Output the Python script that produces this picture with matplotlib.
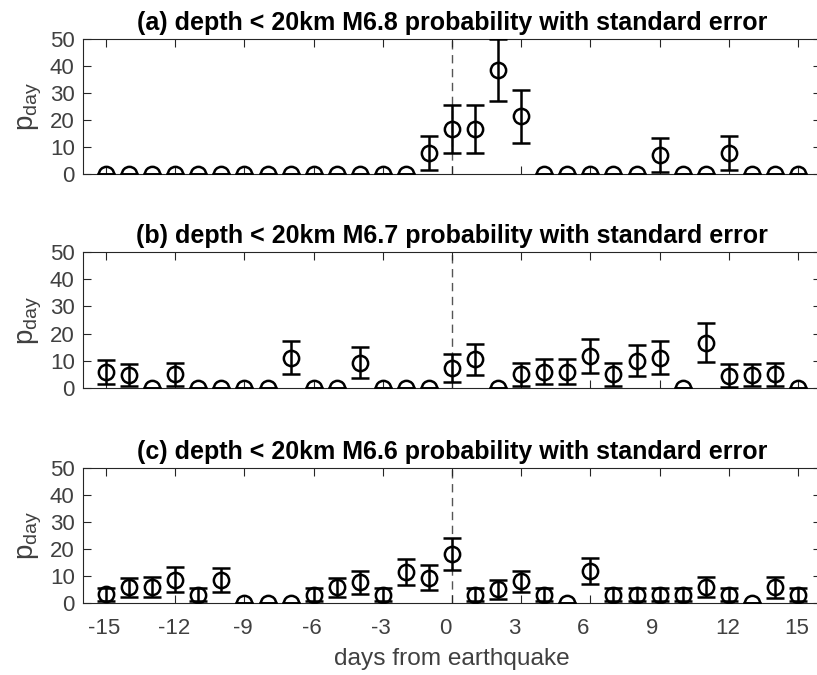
import matplotlib
matplotlib.use('Agg')
import matplotlib.pyplot as plt
import matplotlib.transforms as mtransforms
import numpy as np

plt.rcParams['font.family'] = ['Liberation Sans', 'DejaVu Sans']

days = list(range(-15, 16))

# panel (a): depth < 20km, M6.8
p_a = [0, 0, 0, 0, 0, 0, 0, 0, 0, 0, 0, 0, 0, 0, 7.7,
       16.7, 16.7, 38.5, 21.3, 0, 0, 0, 0, 0, 7.1, 0, 0, 7.7, 0, 0, 0]
se_a = [0, 0, 0, 0, 0, 0, 0, 0, 0, 0, 0, 0, 0, 0, 6.3,
        8.8, 8.8, 11.4, 9.7, 0, 0, 0, 0, 0, 6.4, 0, 0, 6.3, 0, 0, 0]

# panel (b): depth < 20km, M6.7
p_b = [6.0, 4.9, 0, 5.0, 0, 0, 0, 0, 11.2, 0, 0, 9.3, 0, 0, 0,
       7.4, 10.5, 0, 5.0, 6.0, 6.0, 11.8, 5.0, 10.1, 11.2, 0, 16.7, 4.5, 4.8, 5.0, 0]
se_b = [4.4, 4.1, 0, 4.1, 0, 0, 0, 0, 6.0, 0, 0, 5.8, 0, 0, 0,
        5.2, 5.8, 0, 4.3, 4.5, 4.5, 6.3, 4.3, 5.6, 6.0, 0, 7.3, 4.2, 4.1, 4.2, 0]

# panel (c): depth < 20km, M6.6
p_c = [3.2, 5.8, 5.9, 8.7, 3.0, 8.6, 0, 0, 0, 3.0, 5.8, 7.6, 3.0, 11.4, 9.3,
       18.1, 3.0, 5.1, 8.1, 3.0, 0, 11.9, 3.0, 3.0, 3.0, 3.0, 6.0, 3.0, 0, 5.8, 3.0]
se_c = [2.5, 3.5, 3.7, 4.6, 2.4, 4.4, 0, 0, 0, 2.4, 3.5, 4.1, 2.4, 4.8, 4.6,
        6.0, 2.4, 3.5, 3.9, 2.4, 0, 4.7, 2.4, 2.4, 2.4, 2.4, 3.8, 2.4, 0, 3.8, 2.4]

titles = [
    '(a) depth < 20km M6.8 probability with standard error',
    '(b) depth < 20km M6.7 probability with standard error',
    '(c) depth < 20km M6.6 probability with standard error',
]
panels = [(p_a, se_a), (p_b, se_b), (p_c, se_c)]

xticks = list(range(-15, 16, 3))
yticks = [0, 10, 20, 30, 40, 50]

W, H = 817, 675
fig = plt.figure(figsize=(W / 100, H / 100), dpi=100)

# axes boxes in pixels: (top, bottom)
boxes = [(39, 174), (252, 388), (468, 603)]
left_px, right_px = 83, 821
axc = '#262626'
txc = '#404040'

for (top, bot), (p, se), title in zip(boxes, panels, titles):
    ax = fig.add_axes([left_px / W, 1 - bot / H, (right_px - left_px) / W, (bot - top) / H])
    ax.axvline(0, color='#555555', linestyle=(0, (6, 4)), linewidth=1.0, zorder=1)
    ax.errorbar(days, p, yerr=se, fmt='o', color='black', mfc='none', mec='black',
                markersize=11, markeredgewidth=1.8, elinewidth=1.8, capsize=6.5,
                capthick=1.8, zorder=3)
    ax.set_xlim(-16, 16)
    ax.set_ylim(0, 50)
    ax.set_xticks(xticks)
    ax.set_yticks(yticks)
    ax.tick_params(direction='in', length=5.5, width=0.8, colors=axc,
                   top=True, right=True, labelsize=16, labelcolor=txc)
    ax.tick_params(axis='y', pad=6)
    ax.tick_params(axis='x', pad=11)
    for s in ax.spines.values():
        s.set_color(axc)
        s.set_linewidth(0.8)
    ax.set_title(title, fontsize=18, fontweight='bold', pad=6.5)
    ax.set_ylabel(r'$\mathregular{p_{day}}$', fontsize=20, color=txc, labelpad=4)
    if title.startswith('(c)'):
        labels = ax.set_xticklabels([str(t) for t in xticks])
        # single-digit labels sit a little left of their ticks
        for lbl in labels:
            dx = -7 if len(lbl.get_text()) == 1 else -1.5
            lbl.set_transform(lbl.get_transform() +
                              mtransforms.ScaledTranslation(dx / 100, 0, fig.dpi_scale_trans))
        ax.set_xlabel('days from earthquake', fontsize=17.6, color=txc, labelpad=6)
    else:
        ax.set_xticklabels([])

fig.savefig('out.png', dpi=100)
